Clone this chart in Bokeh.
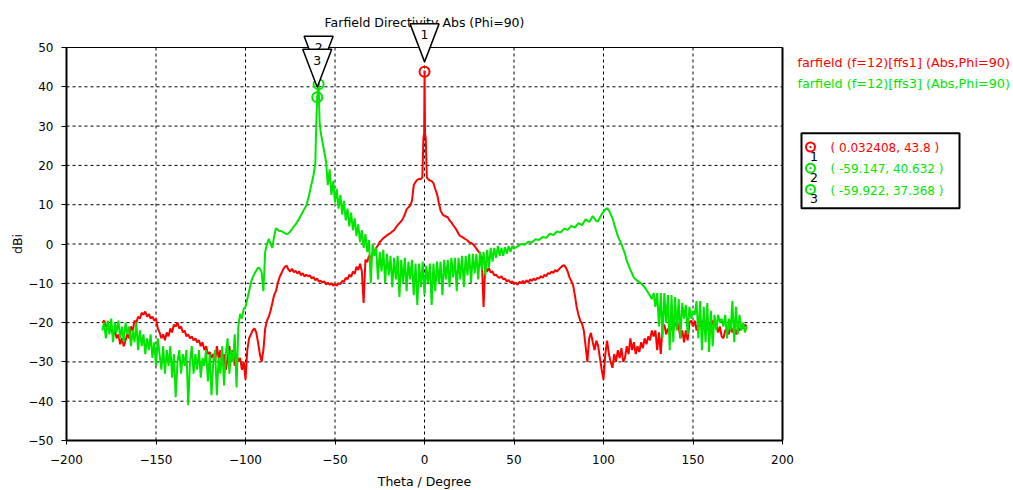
import math
from bokeh.plotting import figure
from bokeh.models import Range1d, FixedTicker, ColumnDataSource
from bokeh.core.properties import value
from bokeh.embed import file_html
from bokeh.resources import INLINE

# ---------------- data ----------------
title_text = "Farfield Directivity Abs (Phi=90)"
x_label = "Theta / Degree"
y_label = "dBi"
series_names = ["farfield (f=12)[ffs1] (Abs,Phi=90)", "farfield (f=12)[ffs3] (Abs,Phi=90)"]
x_ticks = [-200, -150, -100, -50, 0, 50, 100, 150, 200]
y_ticks = [-50, -40, -30, -20, -10, 0, 10, 20, 30, 40, 50]

# ffs1 (red)
red_theta = list(range(-180, -1)) + [-1.2, -0.6, -0.2, 0.032408, 0.3, 0.7, 1.3] + list(range(2, 181))
red_dbi = [
    -20, -19.5, -21, -20.5, -22, -21.5, -23, -22, -24, -23,            # -180..-171
    -25.5, -24, -26, -24.5, -23, -24, -21, -22, -19.5, -20,            # -170..-161
    -18.5, -19, -17.5, -18, -17.2, -18.5, -17.8, -19, -18.5, -19.5,    # -160..-151
    -19, -21.5, -22.5, -24, -23, -24.5, -22.5, -23.5, -21.5, -22.5,    # -150..-141
    -20.5, -21, -20, -21.5, -21, -22.5, -22, -23.5, -23, -24,          # -140..-131
    -23.5, -24.5, -24, -25, -24.5, -26, -25, -27, -26, -28,            # -130..-121
    -27.5, -29, -28, -30, -26, -29, -27, -31, -28, -32,                # -120..-111
    -29, -26, -30, -27, -31, -28, -30, -29, -32, -30,                  # -110..-101
    -34.5, -27, -24, -23, -22, -21.5, -22.5, -25, -28, -30,            # -100..-91
    -27, -21.5, -19.5, -18.5, -17, -15, -13, -12, -10, -8.5,           # -90..-81
    -7.5, -6.5, -5.8, -5.5, -6.5, -7, -6.3, -7.2, -6.8, -7.5,          # -80..-71
    -7, -8, -7.4, -8.3, -7.8, -8.2, -8, -8.8, -8.4, -9.2,              # -70..-61
    -8.8, -9.6, -9.3, -9.8, -9.5, -10.3, -9.8, -10.4, -10, -10.6,      # -60..-51
    -10.2, -10.6, -10, -10.2, -9.4, -9.6, -8.6, -9, -7.8, -8.4,        # -50..-41
    -7, -7.6, -5.8, -6.6, -5, -7, -15, -4, -4.6, -3,                   # -40..-31
    -3.5, -2.5, -2, -1, -0.3, 0.5, 1, 1.5, 1.8, 2.2,                   # -30..-21
    2.5, 2.8, 3.2, 3.5, 4.2, 4.8, 5.3, 5.8, 6.5, 7.5,                  # -20..-11
    8.8, 9.3, 9.8, 11, 15, 15.8, 16.3, 16.6, 16.5,                     # -10..-2
    17, 27, 28, 43.8, 28, 27, 17,                                      # main lobe
    16.5, 16.2, 16, 15.5, 14, 12.7, 10.5, 8.5, 7.6, 7.2,               # 2..11
    7, 6.8, 6, 5.5, 4.8, 4.2, 3.5, 2.6, 2, 1.8,                        # 12..21
    1.5, 1.2, 0.9, 0.4, 0.3, 0, -0.5, -1.2, -1.8, -2.5,                # 22..31
    -4, -16, -5, -7, -6.2, -7.2, -7, -8, -7.8, -8.4,                   # 32..41
    -8.6, -8.2, -9, -8.8, -9.5, -9.2, -9.8, -9.5, -10.2, -9.8,         # 42..51
    -10.4, -9.6, -10, -9.4, -10, -9.2, -9.8, -9, -9.4, -8.8,           # 52..61
    -9.2, -8.6, -8.8, -8.2, -8.6, -7.8, -8.2, -7.4, -7.6, -7,          # 62..71
    -7.4, -6.6, -7, -6.5, -6, -5.6, -5.4, -6, -7, -8.5,                # 72..81
    -9.4, -10.5, -13, -16, -18, -19.5, -20.3, -22, -26, -30,           # 82..91
    -24, -22.6, -25, -27, -24.6, -26, -29, -32, -34.5, -28,            # 92..101
    -24.6, -28, -30, -31.5, -28, -30, -27, -29, -26.5, -30,            # 102..111
    -29, -26, -28, -24, -27, -25, -28, -26, -27.5, -25,                # 112..121
    -26.5, -24, -25.5, -23.5, -24.5, -22, -23.5, -22, -27, -22.5,      # 122..131
    -28, -21, -20.5, -23, -21.5, -23, -21, -22, -20.5, -20,            # 132..141
    -21, -24, -22, -25, -22, -24.5, -20, -19.5, -21, -19.5,            # 142..151
    -22, -20, -21, -19.5, -21.5, -20.5, -22, -20, -21, -19.5,          # 152..161
    -21, -20.5, -22.5, -21, -23.5, -24, -22, -21.5, -23, -21,          # 162..171
    -22.5, -21, -23, -21.5, -22, -20.5, -21.5, -20.5, -21,             # 172..180
]

# ffs3 (green)
green_theta = (list(range(-180, -60)) + [-60.5, -59.922, -59.147, -58.6, -58] + list(range(-57, 51))
               + [52, 54, 56, 58, 60, 62, 64, 66, 68, 70, 72, 74, 76, 78, 80, 82, 84, 86, 88, 90,
                  92, 94, 96, 97, 99, 101, 102, 103, 104, 105, 106, 107, 108, 109, 110, 112, 113,
                  115, 117, 119, 121, 123, 125, 127]
               + list(range(128, 181)))
green_dbi = [
    -22, -20, -24, -19.5, -23, -19, -25, -20, -22.5, -19.5,            # -180..-171
    -24, -21, -25, -20, -23, -21, -26, -22, -25, -20,                  # -170..-161
    -27, -22, -26, -23, -28, -24, -27, -23, -29, -25,                  # -160..-151
    -31, -24, -28, -32, -26, -33, -27, -31, -26, -34,                  # -150..-141
    -28, -39, -30, -27, -33, -28, -31, -27, -41, -30,                  # -140..-131
    -26, -33, -28, -32, -27, -34, -29, -31, -27, -35,                  # -130..-121
    -28, -38.5, -30, -27, -38.5, -29, -33, -26, -36, -28,              # -120..-111
    -24, -33, -27, -30, -23, -36.5, -21, -17.8, -19, -16.5,            # -110..-101
    -16, -14, -12, -10, -8.5, -7.6, -6.8, -6, -6.2, -7.2,              # -100..-91
    -12, -2, 0, 1.3, 0, -1, 2, 4, 3.6, 3.3,                            # -90..-81
    3.3, 3, 2.8, 2.5, 2.7, 3.2, 3.8, 4.5, 5, 5.7,                      # -80..-71
    6.5, 7.3, 8.2, 9, 9.8, 11.5, 13.5, 15.5, 17.5, 20.5,               # -70..-61
    30, 37.368, 40.632, 31, 28.5,                                      # main lobe
    26, 23.5, 21, 15, 19, 12.5, 16, 10.5, 14, 9,                       # -57..-48
    12.5, 7.5, 11, 6, 9, 4.5, 8, 3.5, 6.5, 2,                          # -47..-38
    5, 0.5, 3.5, -1, 2.5, -2, 1, -10, 0, -3,                           # -37..-28
    -1, -9, -2, -7, -1.5, -10, -2.5, -8, -3, -11,                      # -27..-18
    -3.5, -9, -3, -13.5, -4, -10, -3.5, -12, -4.5, -9,                 # -17..-8
    -4, -13, -5, -15.5, -5, -11, -4.5, -13, -5.5, -10,                 # -7..2
    -5, -15.5, -5, -12, -4.5, -10, -4.5, -13, -4, -9,                  # 3..12
    -4, -11, -3.5, -8.5, -3.5, -12, -3.5, -9, -3, -11,                 # 13..22
    -3, -8, -2.5, -10, -2.5, -7.5, -2.5, -9, -2, -6.5,                 # 23..32
    -2, -8, -1.5, -6, -1, -4.5, -1, -3.5, -0.5, -3,                    # 33..42
    -1, -3, -0.8, -2.5, -0.5, -2, -0.5, -1.2,                          # 43..50
    -0.6, 0, -0.2, 0.6, 0.4, 1.2, 1, 1.8, 1.6, 2.6, 2.3, 3.2, 2.9, 3.9, 3.6, 4.6, 4.2, 5.3,
    4.8, 6.3, 5.6, 7.1, 5.8, 5.8, 7.6, 8.8, 9.1, 8.6, 7.6, 6.6, 5, 3.5, 2, 1, 0, -2.5, -4.3,
    -6.5, -8.6, -9.4, -10, -11, -12.4, -14,                            # 52..127
    -12.5, -16, -12.5, -21, -12.5, -24, -12.5, -20, -13, -27,          # 128..137
    -13, -25, -13.5, -22, -14, -24, -15, -19, -15.5, -23,              # 138..147
    -16, -19, -17, -18, -14.5, -24, -14.5, -27, -16, -25,              # 148..157
    -15, -27.5, -17, -26, -18, -22, -18, -20, -19, -21,                # 158..167
    -18, -24, -19, -22, -14.5, -25, -16, -23, -18, -22,                # 168..177
    -20, -22.5, -21,                                                   # 178..180
]

marker_ids = ["1", "2", "3"]
marker_theta = [0.032408, -59.147, -59.922]
marker_dbi = [43.8, 40.632, 37.368]
marker_series = [0, 1, 1]

# ---------------- style / layout ----------------
RED = "#ff0000"
GREEN = "#00e600"
COLORS = [RED, GREEN]
FONT = "DejaVu Sans"

W, H = 1013, 490
FL, FR, FT, FB = 66, 782, 47, 440   # pixel positions of x=-200, x=200, y=50, y=-50


def xd(px):
    return -200 + (px - FL) * 400.0 / (FR - FL)


def yd(py):
    return 50 - (py - FT) * 100.0 / (FB - FT)


DX = 400.0 / (FR - FL)
DY = 100.0 / (FB - FT)
XMIN, XMAX = x_ticks[0], x_ticks[-1]
YMIN, YMAX = y_ticks[0], y_ticks[-1]

# the frame covers the whole canvas; the axes are pinned to the plot box so the
# marker flags, title, legend and marker table can be drawn around it
p = figure(width=W, height=H, title=None,
           x_range=Range1d(xd(0), xd(W)), y_range=Range1d(yd(H), yd(0)),
           output_backend="svg", toolbar_location=None,
           min_border_left=0, min_border_right=0, min_border_top=0, min_border_bottom=0)
p.background_fill_color = "white"
p.border_fill_color = "white"
p.outline_line_color = None
p.xgrid.visible = False
p.ygrid.visible = False

p.xaxis.ticker = FixedTicker(ticks=x_ticks)
p.yaxis.ticker = FixedTicker(ticks=y_ticks)
p.xaxis.bounds = (XMIN, XMAX)
p.yaxis.bounds = (YMIN, YMAX)
p.xaxis.fixed_location = YMIN
p.yaxis.fixed_location = XMIN
for ax in (p.xaxis[0], p.yaxis[0]):
    ax.major_label_text_font = FONT
    ax.major_label_text_font_size = "12px"
    ax.major_label_text_color = "black"
    ax.axis_line_color = "black"
    ax.axis_line_width = 2
    ax.major_tick_line_color = "black"
    ax.minor_tick_line_color = None
    ax.major_tick_in = 0
p.xaxis.major_tick_out = 4
p.xaxis.major_label_standoff = 10
p.yaxis.major_tick_out = 5
p.yaxis.major_label_standoff = 8

# dotted grid
p.segment(x0=x_ticks, y0=[YMIN] * len(x_ticks), x1=x_ticks, y1=[YMAX] * len(x_ticks),
          line_color="black", line_width=1, line_dash="3 3")
p.segment(x0=[XMIN] * len(y_ticks), y0=y_ticks, x1=[XMAX] * len(y_ticks), y1=y_ticks,
          line_color="black", line_width=1, line_dash="3 3")

# curves
p.line(red_theta, red_dbi, line_color=RED, line_width=2)
p.line(green_theta, green_dbi, line_color=GREEN, line_width=2)

# plot box top / right edges
p.segment(x0=[XMIN, XMAX], y0=[YMAX, YMIN], x1=[XMAX, XMAX], y1=[YMAX, YMAX],
          line_color="black", line_width=[1, 2])

# axis titles
p.text(x=[(XMIN + XMAX) / 2], y=[yd(481)], text=[x_label], text_align="center",
       text_baseline="middle", text_font=value(FONT), text_font_size=value("12.5px"),
       text_color="black")
p.text(x=[xd(17)], y=[(YMIN + YMAX) / 2], text=[y_label], angle=math.pi / 2,
       text_align="center", text_baseline="middle", text_font=value(FONT),
       text_font_size=value("12.5px"), text_color="black")

# markers on the curves
msrc = ColumnDataSource(dict(x=marker_theta, y=marker_dbi,
                             c=[COLORS[s] for s in marker_series]))
p.scatter("x", "y", source=msrc, marker="circle_dot", size=10, fill_color=None,
          line_color="c", line_width=2)

# title (under the marker flags)
p.text(x=[(XMIN + XMAX) / 2], y=[yd(22)], text=[title_text], text_align="center",
       text_baseline="middle", text_font=value(FONT), text_font_size=value("12.5px"),
       text_color="black")

# marker flags
tips = [v + 10 * DY for v in marker_dbi]
tops = [t + 38 * DY for t in tips]
half = 14.5 * DX
for mid, t, tip, top in zip(marker_ids, marker_theta, tips, tops):
    p.patch([t - half, t + half, t], [top, top, tip], fill_color="white",
            line_color="black", line_width=1.5)
    p.text(x=[t], y=[top - 11 * DY], text=[mid], text_align="center",
           text_baseline="middle", text_font=value(FONT), text_font_size=value("12.5px"),
           text_color="black")

# legend (coloured names only)
for i, name in enumerate(series_names):
    p.text(x=[xd(797)], y=[yd(61.7 + 21.6 * i)], text=[name], text_align="left",
           text_baseline="middle", text_font=value(FONT), text_font_size=value("12.8px"),
           text_color=COLORS[i])

# marker table
p.quad(left=[xd(801)], right=[xd(959)], top=[yd(132.7)], bottom=[yd(207.7)],
       fill_color="white", line_color="black", line_width=2)
rows = [146.5 + 21.2 * i for i in range(len(marker_ids))]
tcols = [COLORS[s] for s in marker_series]
p.scatter(x=[xd(810)] * len(rows), y=[yd(r) for r in rows], marker="circle_dot", size=9,
          fill_color=None, line_color=tcols, line_width=2)
p.text(x=[xd(813.5)] * len(rows), y=[yd(r + 9.5) for r in rows], text=marker_ids,
       text_align="center", text_baseline="middle", text_font=value(FONT),
       text_font_size=value("12.5px"), text_color="black")
p.text(x=[xd(830)] * len(rows), y=[yd(r + 1.2) for r in rows],
       text=[f"( {t}, {v} )" for t, v in zip(marker_theta, marker_dbi)],
       text_align="left", text_baseline="middle", text_font=value(FONT),
       text_font_size=value("12px"), text_color=tcols)

open("out.html", "w").write(file_html(p, INLINE))
